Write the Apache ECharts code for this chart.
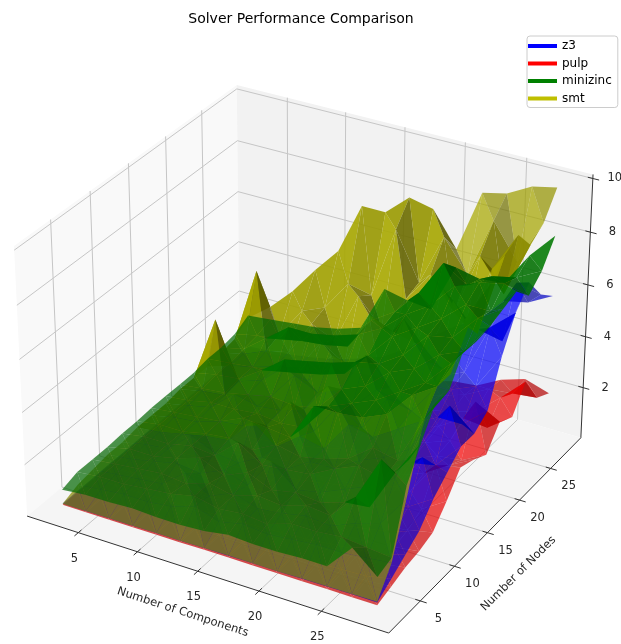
<!DOCTYPE html>
<html>
<head>
<meta charset="utf-8">
<style>html,body{margin:0;padding:0;background:#fff}#chart{width:621px;height:644px}</style>
<script src="https://cdn.jsdelivr.net/npm/echarts@6/dist/echarts.min.js"></script>
</head>
<body>
<div id="chart"></div>
<script>
const components = [2, 4, 6, 8, 10, 12, 14, 16, 18, 20, 22, 24, 26, 28];
const nodes = [3, 5, 7, 9, 11, 13, 15, 17, 19, 21, 23, 25, 27, 29];
const xTicks = [5, 10, 15, 20, 25];
const yTicks = [5, 10, 15, 20, 25];
const zTicks = [2, 4, 6, 8, 10];

// one row per node count, one column per component count
const z3Times = [
  [.06, .06, .07, .07, .08, .08, .09, .09, .1, .1, .11, .12, .13, .12],
  [.07, .07, .08, .08, .09, .1, .12, .14, .16, .18, .2, .25, .3, .5],
  [.07, .08, .09, .1, .12, .14, .17, .2, .25, .3, .4, .5, .6, .9],
  [.08, .09, .1, .12, .15, .18, .22, .28, .35, .45, .6, .75, .95, 1.3],
  [.08, .1, .12, .15, .18, .22, .3, .38, .5, .65, .8, 1.1, 1.4, 2],
  [.09, .11, .14, .17, .22, .28, .38, .5, .65, .85, 1.1, 1.4, 2.8, 2.5],
  [.09, .12, .15, .19, .25, .33, .45, .6, .8, 1, 1.4, 1.8, 2, 3],
  [.1, .13, .16, .2, .28, .4, .55, .75, 1, 1.3, 1.7, 2.2, 3.8, 3],
  [.1, .14, .18, .24, .33, .46, .65, .9, 1.2, 1.6, 2.1, 2.6, 2.6, 3.4],
  [.11, .15, .2, .28, .38, .55, .75, 1.05, 1.4, 1.9, 2.4, 3.2, 3.6, 5],
  [.12, .16, .22, .32, .45, .65, .9, 1.2, 1.7, 2.2, 3, 3.4, 5.4, 6.2],
  [.12, .17, .25, .36, .5, .75, 1.05, 1.5, 2, 2.7, 3.3, 4.6, 4.4, 6.9],
  [.13, .18, .28, .4, .6, .85, 1.2, 1.7, 2.3, 3, 4, 4.2, 6.2, 6],
  [.13, .2, .3, .45, .65, .95, 1.3, 1.9, 2.6, 3.3, 3.8, 4.8, 5, 5.5]
];
const pulpTimes = [
  [.01, .01, .01, .01, .01, .01, .02, .02, .02, .02, .02, .02, .02, .02],
  [.02, .02, .02, .03, .03, .03, .04, .04, .05, .06, .07, .09, .12, .2],
  [.02, .03, .03, .04, .04, .05, .06, .07, .09, .11, .14, .18, .25, .4],
  [.03, .03, .04, .05, .06, .07, .09, .1, .13, .16, .2, .27, .36, .5],
  [.03, .04, .05, .06, .07, .09, .11, .14, .17, .22, .28, .36, .5, .7],
  [.03, .04, .06, .07, .09, .11, .14, .17, .22, .28, .36, .5, .8, 1.4],
  [.04, .05, .06, .08, .1, .13, .17, .21, .27, .34, .45, .7, 2, 2.2],
  [.04, .05, .07, .09, .12, .15, .2, .25, .32, .42, .55, .9, 1.5, 2],
  [.05, .06, .08, .1, .13, .17, .23, .3, .38, .5, .7, 1.1, 1.2, 1.7],
  [.05, .07, .09, .12, .15, .2, .27, .35, .45, .6, .85, 1.2, 3, 2.5],
  [.05, .07, .1, .13, .17, .23, .3, .4, .55, .75, 1, 1.6, 1.5, 2.2],
  [.06, .08, .11, .15, .2, .26, .35, .46, .65, .9, 1.1, 1.4, 2.2, 3.1],
  [.06, .09, .12, .16, .22, .3, .4, .55, .75, 1, 1.3, 1.8, 1.9, 2],
  [.07, .1, .14, .18, .25, .33, .45, .6, .85, 1.1, 1.2, 1.7, 2, 1.7]
];
const minizincTimes = [
  [.6, .7, .7, .75, .7, .7, .75, .9, .85, .85, .9, .9, 1.9, 1.1],
  [.8, .9, .9, 1, 1.1, 1.3, 1.1, 1.2, 1.1, 1.4, 1.4, 1.5, 1.4, 1.3],
  [.8, .9, 1, 1.1, 1, 1.3, 1.1, 1.4, 1.3, 1.6, 1.5, 2.5, 4.2, 3.5],
  [.8, 1, 1, 1.2, 1.5, 1.1, 1.5, 1.1, 1.3, 1.2, 1.5, 1.6, 3.2, 4.6],
  [.85, 1, 1, 1.2, 1.1, 1.9, 1.3, 1.4, 1.5, 2, 2.4, 2.2, 3.2, 5.6],
  [.85, 1, 1, 1.2, 1.3, 1.1, 1.6, 1.4, 1.6, 1.9, 2.6, 2.4, 4.2, 5.6],
  [.9, 1, 1.1, 1.2, 1.6, 1.5, 1.4, 2.9, 2.9, 3, 3.4, 4.4, 5, 6.6],
  [.9, 1, 1.2, 1.2, 1.3, 1.2, 1.3, 2.4, 2.8, 3.2, 3.8, 4.4, 5.4, 6.5],
  [.9, 1, 1.1, 1.3, 1.5, 1.4, 1.6, 2.6, 3, 3.8, 4.2, 5, 5.4, 6.6],
  [.9, 1.1, 1.2, 1.8, 2.5, 2.7, 2.9, 3.2, 3.4, 4, 5, 5.2, 6.2, 6.8],
  [1, 1.1, 1.2, 1.3, 1.5, 1.7, 2, 3, 4, 4.6, 5.2, 6, 6, 7],
  [1, 1.2, 1.9, 2.6, 2.6, 2.8, 3.1, 3.6, 4.4, 5, 6, 6.4, 6.6, 6.4],
  [1.1, 1.3, 1.4, 1.6, 1.7, 1.9, 3.2, 3.8, 4.8, 6.2, 5.6, 6.2, 6.4, 6.9],
  [1.4, 1.5, 1.6, 1.7, 1.9, 2.2, 4, 3.8, 3.7, 5.6, 5.4, 5.5, 6.8, 7.8]
];
const smtTimes = [
  [.05, .06, .07, .07, .08, .08, .09, .1, .1, .1, .12, .13, .14, .15],
  [.3, .4, .5, .5, .6, .9, .6, .8, .7, .8, .9, .9, 1, 1.1],
  [.4, .5, .6, .7, 1.4, .8, 1.2, .9, 1, 1.2, 1.1, 1.5, 1.8, 3],
  [.5, .6, .8, 1, .9, 1.3, 1, 2.2, 1.4, 1.6, 2, 2.4, 3, 5],
  [.5, .7, .8, 1.6, 1.2, 1.1, 1.6, 1.4, 2, 2, 2.6, 3, 3.6, 6.5],
  [.6, .7, .9, 1.1, 1.2, 2.2, 1.5, 2.2, 2, 3.2, 3, 3.6, 4.2, 7],
  [.6, .8, .9, 1.2, 1.3, 1.6, 2.8, 1.9, 3.2, 2.6, 4, 3.8, 5, 7.5],
  [.6, .8, 1, 1.8, 1.6, 1.7, 2, 3.2, 2.6, 3.6, 3.4, 5.2, 5, 8],
  [.7, .9, 1, 1.3, 1.5, 2.6, 2.2, 2.6, 4.2, 3.2, 5.2, 4.6, 6.6, 8.2],
  [.7, 3.3, 1.1, 1.4, 2.2, 1.9, 3.2, 3, 3.2, 5.4, 4.4, 6.6, 5.6, 8.8],
  [.7, 1, 1.2, 1.5, 1.7, 3, 2.4, 4.6, 4.2, 4, 6.4, 5.2, 7.6, 9.1],
  [.8, 1, 1.4, 1.6, 3, 2.6, 4.6, 3.6, 5, 6.2, 5, 7.4, 6.2, 8.3],
  [.9, 3.9, 1.6, 2.8, 3.2, 4.4, 4.2, 7, 5.2, 7.2, 6, 8.3, 7, 8.7],
  [1.3, 2, 2.9, 4, 5, 7, 7, 7.8, 7.6, 6.3, 8.7, 8.9, 9.4, 9.6]
];

// axis limits of the 3d box
const xLim = [0.6, 30.3];
const yLim = [0.5, 30];
const zLim = [0, 10.15];

// same camera as a default matplotlib 3d axes: elev 30, azim -60, dist 10
const box = [1.19048, 1.19048, 0.89286];
const camU = [0.86603, 0.5, 0];
const camV = [-0.25, 0.43301, 0.86603];
const camW = [0.43301, -0.75, 0.5];

function toBox(p) {
  return [
    ((p[0] - xLim[0]) / (xLim[1] - xLim[0]) - 0.5) * box[0],
    ((p[1] - yLim[0]) / (yLim[1] - yLim[0]) - 0.5) * box[1],
    ((p[2] - zLim[0]) / (zLim[1] - zLim[0]) - 0.5) * box[2]
  ];
}
function dot(a, b) {
  return a[0] * b[0] + a[1] * b[1] + a[2] * b[2];
}
function depth(p) {
  return 10 - dot(camW, toBox(p));
}
function project(p) {
  const q = toBox(p);
  const d = 10 - dot(camW, q);
  return [dot(camU, q) / d, dot(camV, q) / d];
}

// light of matplotlib's default surface shading
const light = [-0.6667, -0.6667, 0.3333];
function shade(rgb, alpha, a, b, c) {
  const e = [b[0] - a[0], b[1] - a[1], b[2] - a[2]];
  const f = [c[0] - a[0], c[1] - a[1], c[2] - a[2]];
  const n = [e[1] * f[2] - e[2] * f[1], e[2] * f[0] - e[0] * f[2], e[0] * f[1] - e[1] * f[0]];
  const s = dot(n, light) / Math.sqrt(dot(n, n));
  const k = 0.3 + ((s + 1) / 2) * 0.7;
  return "rgba(" + rgb.map((v) => Math.round(v * k)).join(",") + "," + alpha + ")";
}

function surfaceSeries(name, color, rgb, values, alphaAt) {
  const tris = [];
  function addTri(a, b, c, alpha) {
    tris.push({ pts: [a, b, c], alpha, dist: (depth(a) + depth(b) + depth(c)) / 3 });
  }
  for (let j = 0; j < nodes.length - 1; j++) {
    for (let i = 0; i < components.length - 1; i++) {
      const a = [components[i], nodes[j], values[j][i]];
      const b = [components[i + 1], nodes[j], values[j][i + 1]];
      const c = [components[i + 1], nodes[j + 1], values[j + 1][i + 1]];
      const d = [components[i], nodes[j + 1], values[j + 1][i]];
      const alpha = alphaAt ? alphaAt(i, j) : 0.7;
      addTri(a, b, d, alpha);
      addTri(b, c, d, alpha);
    }
  }
  tris.sort((p, q) => q.dist - p.dist);
  return {
    type: "custom",
    name,
    coordinateSystem: "cartesian2d",
    clip: false,
    silent: true,
    animation: false,
    itemStyle: { color },
    data: tris.map((q, idx) => [idx, 0]),
    encode: { x: 0, y: 1 },
    renderItem(params, api) {
      const t = tris[params.dataIndex];
      return {
        type: "polygon",
        shape: { points: t.pts.map((p) => api.coord(project(p))) },
        style: { fill: shade(rgb, t.alpha, t.pts[0], t.pts[1], t.pts[2]) }
      };
    }
  };
}

function lineSeries(segments, color, width) {
  return {
    type: "custom",
    coordinateSystem: "cartesian2d",
    clip: false,
    silent: true,
    animation: false,
    data: segments.map((s, idx) => [idx, 0]),
    encode: { x: 0, y: 1 },
    renderItem(params, api) {
      const s = segments[params.dataIndex];
      const a = api.coord(project(s[0]));
      const b = api.coord(project(s[1]));
      return {
        type: "line",
        shape: { x1: a[0], y1: a[1], x2: b[0], y2: b[1] },
        style: { stroke: color, lineWidth: width, fill: null }
      };
    }
  };
}

function paneSeries() {
  const [x0, x1] = xLim, [y0, y1] = yLim, [z0, z1] = zLim;
  const panes = [
    { pts: [[x0, y0, z0], [x0, y1, z0], [x0, y1, z1], [x0, y0, z1]], fill: "#f9f9f9" },
    { pts: [[x0, y1, z0], [x1, y1, z0], [x1, y1, z1], [x0, y1, z1]], fill: "#f2f2f2" },
    { pts: [[x0, y0, z0], [x1, y0, z0], [x1, y1, z0], [x0, y1, z0]], fill: "#f5f5f5" }
  ];
  return {
    type: "custom",
    coordinateSystem: "cartesian2d",
    clip: false,
    silent: true,
    animation: false,
    data: panes.map((p, idx) => [idx, 0]),
    encode: { x: 0, y: 1 },
    renderItem(params, api) {
      const p = panes[params.dataIndex];
      return {
        type: "polygon",
        shape: { points: p.pts.map((v) => api.coord(project(v))) },
        style: { fill: p.fill }
      };
    }
  };
}

function textSeries(labels) {
  return {
    type: "custom",
    coordinateSystem: "cartesian2d",
    clip: false,
    silent: true,
    animation: false,
    data: labels.map((l, idx) => [idx, 0]),
    encode: { x: 0, y: 1 },
    renderItem(params, api) {
      const l = labels[params.dataIndex];
      const c = api.coord(project(l.at));
      return {
        type: "text",
        x: c[0] + l.dx,
        y: c[1] + l.dy,
        rotation: ((l.rotate || 0) * Math.PI) / 180,
        style: {
          text: l.text,
          fill: "#262626",
          font: l.size + 'px "DejaVu Sans"',
          textAlign: "center",
          textVerticalAlign: "middle"
        }
      };
    }
  };
}

const [x0, x1] = xLim, [y0, y1] = yLim, [z0, z1] = zLim;

const gridLines = [];
xTicks.forEach((t) => {
  gridLines.push([[t, y0, z0], [t, y1, z0]], [[t, y1, z0], [t, y1, z1]]);
});
yTicks.forEach((t) => {
  gridLines.push([[x1, t, z0], [x0, t, z0]], [[x0, t, z0], [x0, t, z1]]);
});
zTicks.forEach((t) => {
  gridLines.push([[x0, y0, t], [x0, y1, t]], [[x0, y1, t], [x1, y1, t]]);
});

const axisLines = [
  [[x0, y0, z0], [x1, y0, z0]],
  [[x1, y0, z0], [x1, y1, z0]],
  [[x1, y1, z0], [x1, y1, z1]]
];
xTicks.forEach((t) => axisLines.push([[t, y0 - 0.5, z0], [t, y0 + 0.4, z0]]));
yTicks.forEach((t) => axisLines.push([[x1 - 0.4, t, z0], [x1 + 0.5, t, z0]]));
zTicks.forEach((t) => axisLines.push([[x1 - 0.4, y1, t], [x1 + 0.5, y1, t]]));

const labels = [];
xTicks.forEach((t) => labels.push({ at: [t, y0, z0], text: String(t), dx: -4, dy: 26, size: 11.5 }));
yTicks.forEach((t) => labels.push({ at: [x1, t, z0], text: String(t), dx: 18, dy: 18, size: 11.5 }));
zTicks.forEach((t) => labels.push({ at: [x1, y1, t], text: String(t), dx: 22, dy: 0, size: 11.5 }));
labels.push({ at: [15, y0, z0], text: "Number of Components", dx: -15, dy: 41, rotate: -18, size: 11.5 });
labels.push({ at: [x1, 15, z0], text: "Number of Nodes", dx: 31, dy: 41, rotate: 45, size: 11.5 });

// folded areas of the surfaces read as two layers, so they look more opaque
function smtAlpha(i, j) {
  if (j >= 12 && i >= 9) return 0.72;
  return j >= 5 ? 0.9 : 0.7;
}
function minizincAlpha(i, j) {
  return i >= 7 && j >= 6 ? 0.88 : 0.7;
}

const chart = echarts.init(document.getElementById("chart"), null, { renderer: "canvas" });
chart.setOption({
  animation: false,
  title: {
    text: "Solver Performance Comparison",
    left: 296,
    top: 7,
    textAlign: "center",
    textStyle: { fontFamily: "DejaVu Sans", fontSize: 14, fontWeight: "normal", color: "#000" }
  },
  legend: {
    left: 527,
    top: 36,
    orient: "vertical",
    align: "left",
    icon: "rect",
    itemWidth: 29,
    itemHeight: 4,
    itemGap: 5.5,
    padding: [4, 6, 3, 1],
    backgroundColor: "#fff",
    borderColor: "#ccc",
    borderWidth: 1,
    borderRadius: 3,
    selectedMode: false,
    textStyle: { fontFamily: "DejaVu Sans", fontSize: 12, color: "#000" },
    data: ["z3", "pulp", "minizinc", "smt"]
  },
  grid: { left: 0, right: 0, top: 0, bottom: 0 },
  xAxis: { type: "value", min: -0.08882, max: 0.08963, show: false },
  yAxis: { type: "value", min: -0.0865, max: 0.10033, show: false },
  series: [
    paneSeries(),
    lineSeries(gridLines, "#c6c6c6", 1),
    lineSeries(axisLines, "#333", 1),
    textSeries(labels),
    surfaceSeries("pulp", "#ff0000", [255, 0, 0], pulpTimes),
    surfaceSeries("z3", "#0000ff", [0, 0, 255], z3Times),
    surfaceSeries("smt", "#bfbf00", [168, 168, 0], smtTimes, smtAlpha),
    surfaceSeries("minizinc", "#008000", [0, 128, 0], minizincTimes, minizincAlpha)
  ]
});
</script>
</body>
</html>
